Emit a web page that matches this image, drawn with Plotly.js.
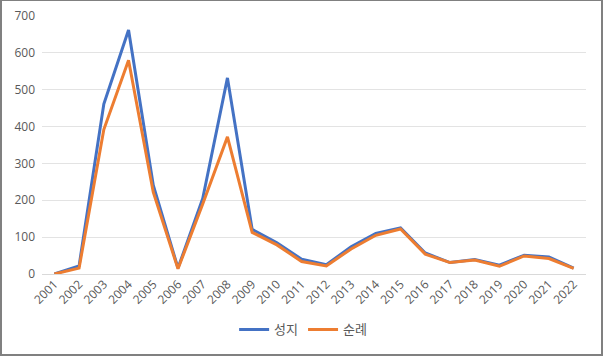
<!DOCTYPE html>
<html>
<head>
<meta charset="utf-8">
<script src="https://cdn.plot.ly/plotly-3.0.1.min.js"></script>
<style>
html,body{margin:0;padding:0;background:#fff;}
#wrap{position:relative;width:603px;height:356px;}
#chart{width:603px;height:356px;}
#frame{position:absolute;left:0;top:0;width:603px;height:356px;box-sizing:border-box;border-style:solid;border-color:#808080;border-width:1px 2px 2px 2px;pointer-events:none;}
</style>
</head>
<body>
<div id="wrap"><div id="chart"></div><div id="frame"></div></div>
<script>
const years = ["2001","2002","2003","2004","2005","2006","2007","2008","2009","2010","2011","2012","2013","2014","2015","2016","2017","2018","2019","2020","2021","2022"];
const seongji = [0, 22, 461, 662, 241, 16, 205, 532, 121, 85, 40, 25, 74, 110, 125, 57, 31, 39, 24, 51, 46, 16];
const sunrye  = [0, 16, 392, 580, 222, 14, 190, 372, 113, 79, 34, 22, 68, 105, 122, 54, 31, 38, 21, 49, 42, 15];
const seriesNames = ["성지", "순례"];
const yTicks = [0, 100, 200, 300, 400, 500, 600, 700];

const fontFam = "'Open Sans', 'Noto Sans CJK KR', sans-serif";
const traces = [
  {x: years, y: seongji, name: seriesNames[0], type: 'scatter', mode: 'lines',
   line: {color: '#4472C4', width: 3}},
  {x: years, y: sunrye, name: seriesNames[1], type: 'scatter', mode: 'lines',
   line: {color: '#ED7D31', width: 3}}
];
const layout = {
  width: 603, height: 356,
  margin: {l: 42, r: 17, t: 16, b: 82},
  paper_bgcolor: '#ffffff', plot_bgcolor: '#ffffff',
  font: {family: fontFam, size: 12, color: '#595959'},
  showlegend: true,
  legend: {orientation: 'h', x: 0.48, xanchor: 'center', y: -0.215, yanchor: 'middle',
           font: {family: fontFam, size: 13, color: '#595959'}, itemwidth: 30},
  xaxis: {type: 'category', range: [-0.5, 21.5], tickangle: -45, showgrid: false,
          showline: false, zeroline: false, ticks: '', tickfont: {size: 12, color: '#595959'}},
  yaxis: {range: [0, 700], tickvals: yTicks, showgrid: true, gridcolor: '#e3e3e3', gridwidth: 1,
          zeroline: true, zerolinecolor: '#d9d9d9', zerolinewidth: 1, showline: false, ticks: '',
          tickfont: {size: 12, color: '#595959'}, ticklabelstandoff: 6}
};
Plotly.newPlot('chart', traces, layout, {displayModeBar: false, staticPlot: true});
</script>
</body>
</html>
